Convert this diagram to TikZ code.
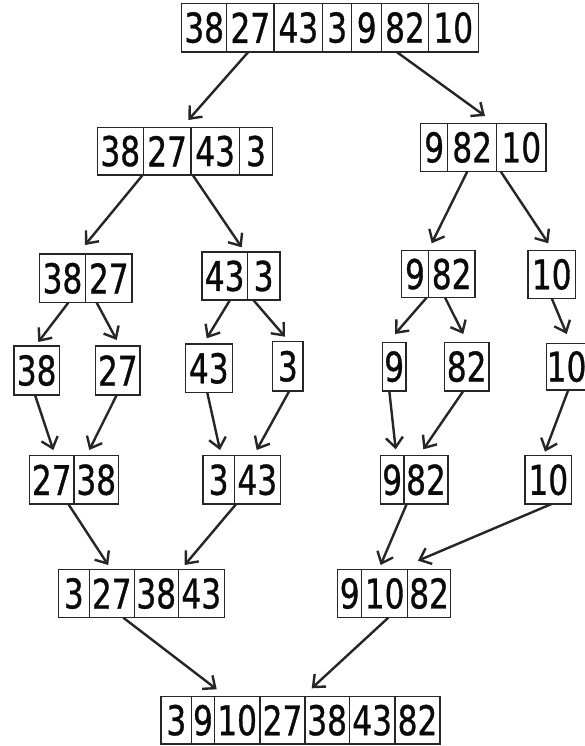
\documentclass[tikz,border=0pt]{standalone}
\usepackage{fontspec}
\setmainfont{DejaVu Sans}[FakeStretch=0.76,FakeBold=0.8]
\usetikzlibrary{arrows.meta}
\definecolor{ink}{HTML}{0A0A0A}
\definecolor{lines}{HTML}{262626}
\tikzset{
  cell/.style={draw=lines, line width=1.4pt, inner sep=0pt, outer sep=0pt, anchor=north west,
    text=ink, font=\fontsize{41pt}{41pt}\selectfont},
  arr/.style={draw=lines, line width=2.4pt, -{Straight Barb[length=10pt,width=17pt,line width=2.4pt]}}
}
\newcommand\cellnode[6]{%
  \node[cell, minimum width={#3-#2}, minimum height={#5-#4}] (#1) at (#2,#4) {#6};}
\begin{document}
\begin{tikzpicture}[x=1pt,y=-1pt]
\useasboundingbox[fill=white] (0,0) rectangle (585,746);
% row 1
\cellnode{r1}{181.7}{226.7}{3.3}{52}{38}
\cellnode{r1b}{226.7}{274}{3.3}{52}{27}
\cellnode{r1c}{274}{322.7}{3.3}{52}{43}
\cellnode{r1d}{322.7}{351.7}{3.3}{52}{3}
\cellnode{r1e}{351.7}{381.7}{3.3}{52}{9}
\cellnode{r1f}{381.7}{428.3}{3.3}{52}{82}
\cellnode{r1g}{428.3}{478.3}{3.3}{52}{10}
% row 2
\cellnode{r2a}{97.3}{143.3}{127.3}{175}{38}
\cellnode{r2ab}{143.3}{191}{127.3}{175}{27}
\cellnode{r2ac}{191}{239.3}{127.3}{175}{43}
\cellnode{r2ad}{239.3}{272.7}{127.3}{175}{3\hspace{4pt}}
\cellnode{r2b}{420.7}{447.7}{123.3}{171.5}{9}
\cellnode{r2bb}{447.7}{496.7}{123.3}{171.5}{82}
\cellnode{r2bc}{496.7}{546}{123.3}{171.5}{10}
% row 3
\cellnode{r3a}{39.3}{85.7}{254}{302.7}{38}
\cellnode{r3ab}{85.7}{132}{254}{302.7}{27}
\cellnode{r3b}{202}{247.3}{252}{300}{43}
\cellnode{r3bb}{247.3}{280}{252}{300}{3\hspace{4pt}}
\cellnode{r3c}{401.7}{428.3}{250.7}{297.5}{9}
\cellnode{r3cb}{428.3}{475}{250.7}{297.5}{82}
\cellnode{r3d}{528}{575.5}{250.5}{298.3}{10}
% row 4
\cellnode{r4a}{14}{59.3}{346}{395}{38}
\cellnode{r4b}{95.7}{140}{346}{395}{27}
\cellnode{r4c}{185.3}{232.3}{344}{392.7}{43}
\cellnode{r4d}{272.7}{303}{341.7}{391}{3}
\cellnode{r4e}{382.3}{406}{342.3}{391}{9}
\cellnode{r4f}{444.3}{489}{342.3}{391}{82}
\cellnode{r4g}{546.7}{586.5}{343.3}{390}{10}
% row 5
\cellnode{r5a}{29.5}{74}{455.7}{504}{27}
\cellnode{r5ab}{74}{118.5}{455.7}{504}{38}
\cellnode{r5b}{203}{234.3}{455.7}{504}{3}
\cellnode{r5bb}{234.3}{280.3}{455.7}{504}{43}
\cellnode{r5c}{380.3}{404}{455.7}{504}{9}
\cellnode{r5cb}{404}{448}{455.7}{504}{82}
\cellnode{r5d}{525}{571.7}{455.7}{504}{10}
% row 6
\cellnode{r6a}{58.3}{89.3}{569.3}{617.7}{3\hspace{6pt}}
\cellnode{r6ab}{89.3}{134.3}{569.3}{617.7}{27}
\cellnode{r6ac}{134.3}{178.3}{569.3}{617.7}{38}
\cellnode{r6ad}{178.3}{224.3}{569.3}{617.7}{43}
\cellnode{r6b}{337.7}{361.7}{569.3}{617.7}{9}
\cellnode{r6bb}{361.7}{407.7}{569.3}{617.7}{10}
\cellnode{r6bc}{407.7}{450.5}{569.3}{617.7}{82}
% row 7
\cellnode{r7}{161}{191.7}{696.5}{744}{3\hspace{10pt}}
\cellnode{r7b}{191.7}{214.3}{696.5}{744}{9}
\cellnode{r7c}{214.3}{260}{696.5}{744}{10}
\cellnode{r7d}{260}{305}{696.5}{744}{27}
\cellnode{r7e}{305}{349.3}{696.5}{744}{38}
\cellnode{r7f}{349.3}{395}{696.5}{744}{43}
\cellnode{r7g}{395}{440}{696.5}{744}{82}
% arrows
\draw[arr] ([xshift=66.6pt]r1.south west) -- ([xshift=91pt,yshift=7.3pt]r2a.north west);
\draw[arr] ([xshift=215pt]r1.south west) -- ([xshift=64.3pt,yshift=7.3pt]r2b.north west);
\draw[arr] ([xshift=45.4pt]r2a.south west) -- ([xshift=45.7pt,yshift=9pt]r3a.north west);
\draw[arr] ([xshift=95.4pt]r2a.south west) -- ([xshift=39.7pt,yshift=4.7pt]r3b.north west);
\draw[arr] ([xshift=46.6pt]r2b.south west) -- ([xshift=30pt,yshift=7.4pt]r3c.north west);
\draw[arr] ([xshift=80pt]r2b.south west) -- ([xshift=20.3pt,yshift=7.2pt]r3d.north west);
\draw[arr] ([xshift=29pt]r3a.south west) -- ([xshift=24.3pt,yshift=4pt]r4a.north west);
\draw[arr] ([xshift=57.4pt]r3a.south west) -- ([xshift=21pt,yshift=6pt]r4b.north west);
\draw[arr] ([xshift=28pt]r3b.south west) -- ([xshift=21.4pt,yshift=5.7pt]r4c.north west);
\draw[arr] ([xshift=51.3pt]r3b.south west) -- ([xshift=12.3pt,yshift=5pt]r4d.north west);
\draw[arr] ([xshift=25pt]r3c.south west) -- ([xshift=12.7pt,yshift=8.3pt]r4e.north west);
\draw[arr] ([xshift=43.3pt]r3c.south west) -- ([xshift=19pt,yshift=8.3pt]r4f.north west);
\draw[arr] ([xshift=23.7pt]r3d.south west) -- ([xshift=20pt,yshift=9.3pt]r4g.north west);
\draw[arr] ([xshift=21pt]r4a.south west) -- ([xshift=23.8pt,yshift=5.7pt]r5a.north west);
\draw[arr] ([xshift=21pt]r4b.south west) -- ([xshift=59.8pt,yshift=5.7pt]r5a.north west);
\draw[arr] ([xshift=22pt]r4c.south west) -- ([xshift=17pt,yshift=5.7pt]r5b.north west);
\draw[arr] ([xshift=16.6pt]r4d.south west) -- ([xshift=53.7pt,yshift=5.7pt]r5b.north west);
\draw[arr] ([xshift=7pt]r4e.south west) -- ([xshift=15.4pt,yshift=6.4pt]r5c.north west);
\draw[arr] ([xshift=19pt]r4f.south west) -- ([xshift=43pt,yshift=6.4pt]r5c.north west);
\draw[arr] ([xshift=21.6pt]r4g.south west) -- ([xshift=20pt,yshift=4pt]r5d.north west);
\draw[arr] ([xshift=38.8pt]r5a.south west) -- ([xshift=49.9pt,yshift=4.3pt]r6a.north west);
\draw[arr] ([xshift=33.2pt]r5b.south west) -- ([xshift=126.4pt,yshift=4.3pt]r6a.north west);
\draw[arr] ([xshift=26.4pt]r5c.south west) -- ([xshift=42.9pt,yshift=4.3pt]r6b.north west);
\draw[arr] ([xshift=26.5pt]r5d.south west) -- ([xshift=80.3pt,yshift=8.6pt]r6b.north west);
\draw[arr] ([xshift=65pt]r6a.south west) -- ([xshift=55.7pt,yshift=7.2pt]r7.north west);
\draw[arr] ([xshift=50.6pt]r6b.south west) -- ([xshift=150.7pt,yshift=8.2pt]r7.north west);
\end{tikzpicture}
\end{document}
